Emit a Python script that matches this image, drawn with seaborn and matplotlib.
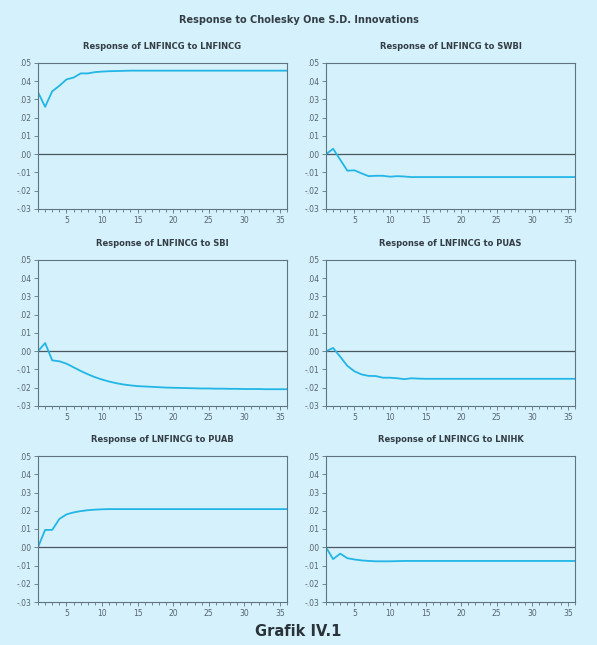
import numpy as np
import pandas as pd
import matplotlib
matplotlib.use('Agg')
import matplotlib.pyplot as plt
from matplotlib.ticker import FuncFormatter, MultipleLocator
import seaborn as sns

# periods 1..36
periods = list(range(1, 37))

resp_lnfincg = [.0340, .0260, .0345, .0375, .0410, .0420, .0443, .0443, .0450, .0453,
                .0455, .0456, .0457, .0458, .0458, .0458, .0458, .0458, .0458, .0458,
                .0458, .0458, .0458, .0458, .0458, .0458, .0458, .0458, .0458, .0458,
                .0458, .0458, .0458, .0458, .0458, .0458]
resp_swbi = [.0000, .0030, -.0030, -.0090, -.0088, -.0105, -.0120, -.0118, -.0118, -.0123,
             -.0120, -.0122, -.0125, -.0125, -.0125, -.0125, -.0125, -.0125, -.0125, -.0125,
             -.0125, -.0125, -.0125, -.0125, -.0125, -.0125, -.0125, -.0125, -.0125, -.0125,
             -.0125, -.0125, -.0125, -.0125, -.0125, -.0125]
resp_sbi = [.0000, .0045, -.0050, -.0055, -.0068, -.0088, -.0108, -.0126, -.0142, -.0155,
            -.0166, -.0175, -.0182, -.0187, -.0191, -.0193, -.0195, -.0197, -.0199, -.0200,
            -.0201, -.0202, -.0203, -.0204, -.0204, -.0205, -.0205, -.0206, -.0206, -.0207,
            -.0207, -.0207, -.0208, -.0208, -.0208, -.0208]
resp_puas = [.0000, .0018, -.0030, -.0080, -.0110, -.0127, -.0135, -.0136, -.0145, -.0145,
             -.0148, -.0153, -.0148, -.0150, -.0151, -.0151, -.0151, -.0151, -.0151, -.0151,
             -.0151, -.0151, -.0151, -.0151, -.0151, -.0151, -.0151, -.0151, -.0151, -.0151,
             -.0151, -.0151, -.0151, -.0151, -.0151, -.0151]
resp_puab = [.0000, .0095, .0095, .0155, .0180, .0191, .0198, .0203, .0206, .0208,
             .0209, .0209, .0209, .0209, .0209, .0209, .0209, .0209, .0209, .0209,
             .0209, .0209, .0209, .0209, .0209, .0209, .0209, .0209, .0209, .0209,
             .0209, .0209, .0209, .0209, .0209, .0209]
resp_lnihk = [.0000, -.0065, -.0035, -.0060, -.0067, -.0072, -.0075, -.0077, -.0077, -.0077,
              -.0076, -.0075, -.0075, -.0075, -.0075, -.0075, -.0075, -.0075, -.0075, -.0075,
              -.0075, -.0075, -.0075, -.0075, -.0075, -.0075, -.0075, -.0075, -.0075, -.0075,
              -.0075, -.0075, -.0075, -.0075, -.0075, -.0075]

shocks = ["LNFINCG", "SWBI", "SBI", "PUAS", "PUAB", "LNIHK"]
responses = [resp_lnfincg, resp_swbi, resp_sbi, resp_puas, resp_puab, resp_lnihk]

bg = "#d5f1fb"
line_col = "#22b6e6"
spine_col = "#5f7480"
text_col = "#333d45"
tick_col = "#56646e"

sns.set_style("white")
plt.rcParams['font.family'] = ['DejaVu Sans']

fig = plt.figure(figsize=(5.97, 6.45), dpi=100, facecolor=bg)

lefts = [38 / 597, 326 / 597]
bottoms = [1 - 209 / 645, 1 - 406 / 645, 1 - 602 / 645]
w = 249 / 597
h = 146 / 645

def fmt(v, pos):
    s = f"{v:.2f}"
    return s.replace("0.", ".").replace("-", "-")

for i, (shock, vals) in enumerate(zip(shocks, responses)):
    r, c = divmod(i, 2)
    ax = fig.add_axes([lefts[c], bottoms[r], w, h])
    ax.set_facecolor(bg)
    df = pd.DataFrame({"period": periods, "resp": vals})
    sns.lineplot(data=df, x="period", y="resp", ax=ax, color=line_col, lw=1.3)
    ax.axhline(0, color="#4a5660", lw=0.9, zorder=1)
    ax.set_xlim(1, 36)
    ax.set_ylim(-0.03, 0.05)
    ax.xaxis.set_major_locator(MultipleLocator(5))
    ax.xaxis.set_minor_locator(MultipleLocator(1))
    ax.yaxis.set_major_locator(MultipleLocator(0.01))
    ax.yaxis.set_major_formatter(FuncFormatter(fmt))
    ax.tick_params(axis="both", which="major", direction="out", length=3, width=0.6,
                   color=spine_col, labelsize=5.5, labelcolor=tick_col, pad=2,
                   left=True, bottom=True)
    ax.tick_params(axis="x", which="minor", direction="out", length=2, width=0.6,
                   color=spine_col, bottom=True)
    for sp in ax.spines.values():
        sp.set_color(spine_col)
        sp.set_linewidth(0.8)
    ax.set_xlabel("")
    ax.set_ylabel("")
    ax.set_title(f"Response of LNFINCG to {shock}", fontsize=6, fontweight="bold",
                 color=text_col, pad=10)

fig.text(0.5, 1 - 20 / 645, "Response to Cholesky One S.D. Innovations",
         ha="center", va="center", fontsize=7, fontweight="bold", color=text_col)
fig.text(0.5, 1 - 632 / 645, "Grafik IV.1", ha="center", va="center",
         fontsize=10.5, fontweight="bold", color="#2a323a")

fig.savefig("out.png", dpi=100, facecolor=bg)
